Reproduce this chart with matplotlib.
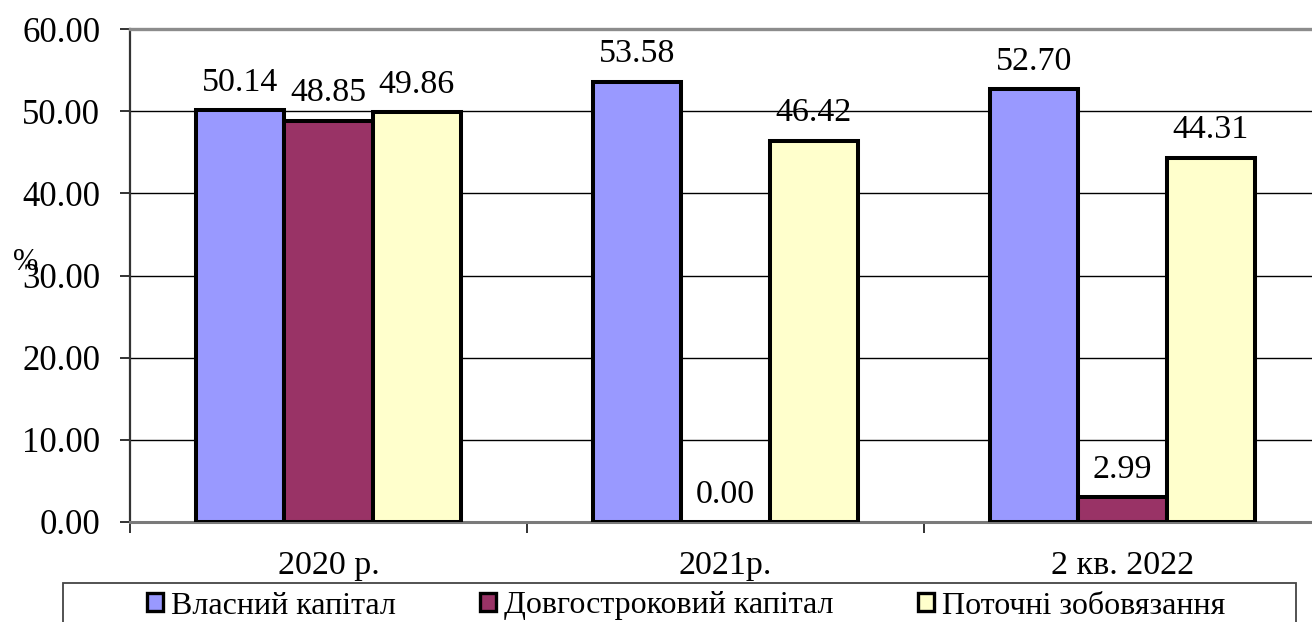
import numpy as np
import matplotlib
matplotlib.use("Agg")
import matplotlib.pyplot as plt
from matplotlib.patches import Rectangle

plt.rcParams['font.family'] = ['Liberation Serif', 'DejaVu Serif']

periods = ['2020 р.', '2021р.', '2 кв. 2022']
series_names = ['Власний капітал', 'Довгостроковий капітал', 'Поточні зобовязання']
own_capital = [50.14, 53.58, 52.70]
long_term = [48.85, 0.00, 2.99]
current_liab = [49.86, 46.42, 44.31]
yticks = [0, 10, 20, 30, 40, 50, 60]

colors = ['#9999FF', '#993366', '#FFFFCC']
W, H = 1312, 622
fig = plt.figure(figsize=(W / 100, H / 100), dpi=100)
# plot area runs a little past the right edge of the figure
ax = fig.add_axes([130 / W, (H - 522) / H, 1191 / W, 493 / H])

x = np.arange(len(periods))
bw = 0.2217
for k, vals in enumerate([own_capital, long_term, current_liab]):
    ax.bar(x + (k - 1) * bw, vals, bw, color=colors[k], edgecolor='black',
           linewidth=2.9, zorder=3, label=series_names[k])
    for xi, v in zip(x + (k - 1) * bw, vals):
        ax.annotate(f'{v:.2f}', (xi, v), xytext=(0, 14), textcoords='offset points',
                    ha='center', va='baseline', fontsize=24.5, zorder=4)

ax.set_xlim(-0.5, 2.5)
ax.set_ylim(0, 60)
ax.set_yticks(yticks)
ax.set_yticklabels([f'{t:.2f}' for t in yticks], fontsize=25)
ax.yaxis.grid(True, color='black', linewidth=1.0, zorder=1)
ax.tick_params(axis='y', length=7.5, width=1.3, pad=14, color='#222222')

ax.set_xticks([-0.5, 0.5, 1.5, 2.5])
ax.set_xticklabels([])
ax.tick_params(axis='x', which='major', length=8, width=1.3, color='#222222')
ax.set_xticks(x, minor=True)
ax.set_xticklabels(periods, minor=True, fontsize=24.5)
ax.tick_params(axis='x', which='minor', length=0, pad=20.5)

ax.spines['top'].set_color('#8c8c8c')
ax.spines['top'].set_linewidth(2.4)
ax.spines['left'].set_color('#333333')
ax.spines['left'].set_linewidth(1.6)
ax.spines['bottom'].set_color('#7a7a7a')
ax.spines['bottom'].set_linewidth(2.2)
ax.spines['right'].set_visible(False)

fig.text(26 / W, 1 - 262 / H, '%', fontsize=22, ha='center', va='center')

# legend box below the axis, partly cut off by the figure edge
fig.add_artist(Rectangle((63 / W, 1 - 640 / H), (1296 - 63) / W, (640 - 583) / H,
                         transform=fig.transFigure, facecolor='white',
                         edgecolor='#444444', linewidth=1.3, clip_on=False))
handles = [Rectangle((0, 0), 1, 1, facecolor=c, edgecolor='black', linewidth=2.4)
           for c in colors]
fig.legend(handles, series_names, ncol=3, loc='center',
           bbox_to_anchor=(686 / W, 1 - 606 / H), frameon=False, fontsize=23,
           handlelength=0.5, handleheight=0.5, handletextpad=0.25,
           columnspacing=2.65, borderpad=0)

fig.savefig('out.png', dpi=100)
